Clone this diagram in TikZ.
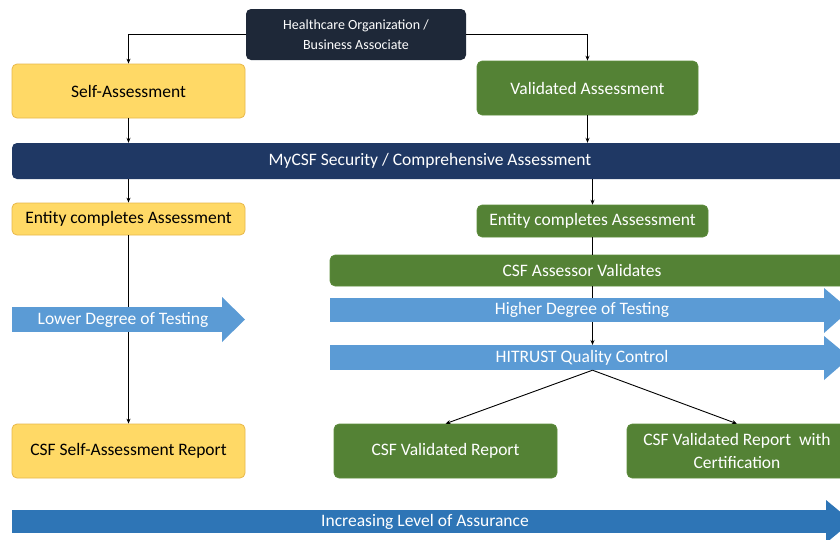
\documentclass[tikz,border=0pt]{standalone}
\usepackage{fontspec}
\setmainfont{Carlito}
\usetikzlibrary{arrows.meta}
\definecolor{topnavy}{HTML}{1E2838}
\definecolor{barnavy}{HTML}{1F3864}
\definecolor{yfill}{HTML}{FFD966}
\definecolor{yline}{HTML}{E8B84A}
\definecolor{gfill}{HTML}{548235}
\definecolor{gline}{HTML}{5E8E3D}
\definecolor{lblue}{HTML}{5B9BD5}
\definecolor{dblue}{HTML}{2E75B6}
\tikzset{
  ybox/.style={rectangle, rounded corners=5pt, fill=yfill, draw=yline, line width=0.8pt, inner sep=0pt, font=\fontsize{17.5}{22}\selectfont, text=black, align=center},
  gbox/.style={rectangle, rounded corners=5pt, fill=gfill, draw=gline, line width=0.6pt, inner sep=0pt, font=\fontsize{17.5}{23}\selectfont, text=white, align=center},
  nbox/.style={rectangle, rounded corners=5pt, inner sep=0pt, text=white, align=center},
  abody/.style={rectangle, inner sep=0pt},
  atext/.style={inner sep=0pt, text=white, font=\fontsize{17.5}{22}\selectfont},
  conn/.style={draw=black, line width=0.9pt, -{Stealth[length=5pt,width=4pt]}},
  plain/.style={draw=black, line width=0.9pt}
}
\begin{document}
\begin{tikzpicture}[x=1pt,y=-1pt]
\useasboundingbox (0,0) rectangle (840,539);
\clip (0,0) rectangle (840,539);
\fill[white] (0,0) rectangle (840,539);

% boxes
\node[nbox, fill=topnavy, minimum width=220pt, minimum height=51pt, font=\fontsize{14}{20}\selectfont] (top) at (356,34.5) {Healthcare Organization /\\Business Associate};
\node[ybox, minimum width=233pt, minimum height=54pt] (self) at (128.5,91) {Self-Assessment};
\node[gbox, minimum width=221pt, minimum height=54pt] (val) at (587.5,88) {Validated Assessment};
\node[nbox, fill=barnavy, minimum width=836pt, minimum height=36pt, font=\fontsize{17.5}{22}\selectfont] (bar) at (430,161) {MyCSF Security / Comprehensive Assessment};
\node[ybox, minimum width=233pt, minimum height=32pt] (entY) at (128.5,219) {Entity completes Assessment};
\node[gbox, minimum width=231pt, minimum height=32pt] (entG) at (592.5,221) {Entity completes Assessment};
\node[gbox, minimum width=530pt, minimum height=31pt] (assessor) at (595,270.5) {};
\node[atext] (assessorT) at (582,270.5) {CSF Assessor Validates};
\node[ybox, minimum width=233pt, minimum height=54pt] (repY) at (128.5,451) {CSF Self-Assessment Report};
\node[gbox, minimum width=223pt, minimum height=54pt] (repG) at (445.5,451) {CSF Validated Report};
\node[gbox, minimum width=220pt, minimum height=54pt] (repC) at (737,451) {CSF Validated Report\ \ with\\Certification};

% connectors (drawn before the wide arrows, which hide them)
\draw[conn] (top.west) -| (self.north);
\draw[conn] (top.east) -| (val.north);
\draw[conn] (self.south) -- (self.south |- bar.north);
\draw[conn] (val.south) -- (val.south |- bar.north);
\draw[conn] (entY.north |- bar.south) -- (entY.north);
\draw[conn] (entG.north |- bar.south) -- (entG.north);
\draw[plain] (entG.south) -- (entG.south |- assessor.north);
\draw[conn] (entY.south) -- (repY.north);
\coordinate (qcin) at (592.5,345);
\draw[conn] (entG.south |- assessor.south) -- (qcin);

% blue arrows (bodies as nodes, heads as polygons)
\node[abody, fill=lblue, minimum width=210pt, minimum height=25pt] (lower) at (117,319.5) {};
\fill[lblue] (222,297) -- (245,319.5) -- (222,342) -- cycle;
\node[atext] (lowerT) at (123,319.5) {Lower Degree of Testing};

\node[abody, fill=lblue, minimum width=495pt, minimum height=24pt] (higher) at (577.5,310) {};
\fill[lblue] (824,288) -- (850,310) -- (824,333) -- cycle;
\node[atext] (higherT) at (582,310) {Higher Degree of Testing};

\node[abody, fill=lblue, minimum width=495pt, minimum height=25pt] (hitrust) at (577.5,357.5) {};
\fill[lblue] (824,336) -- (850,357.5) -- (824,380) -- cycle;
\node[atext] (hitrustT) at (582,357.5) {HITRUST Quality Control};

\coordinate (qc) at (entG.south |- hitrust.south);
\draw[conn] (qc) -- (repG.north);
\draw[conn] (qc) -- (repC.north);

\node[abody, fill=dblue, minimum width=816pt, minimum height=23pt] (assur) at (420,521.5) {};
\fill[dblue] (826,500) -- (852,521.5) -- (826,543) -- cycle;
\node[atext] (assurT) at (425,521.5) {Increasing Level of Assurance};
\end{tikzpicture}
\end{document}
